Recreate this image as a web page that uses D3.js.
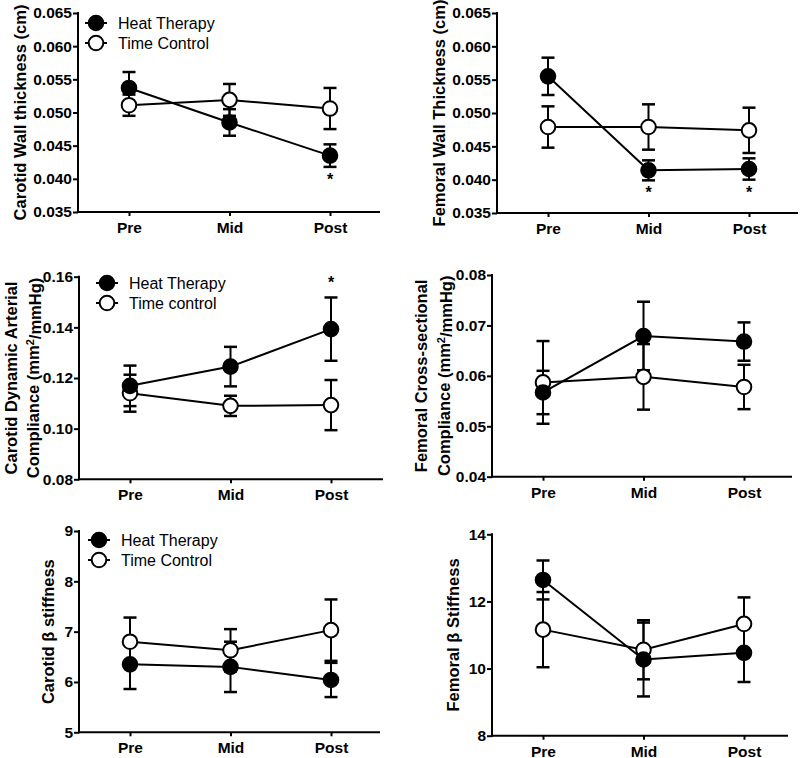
<!DOCTYPE html>
<html lang="en">
<head>
  <meta charset="UTF-8">
  <title>Heat Therapy vs Time Control</title>
  <script src="https://d3js.org/d3.v7.min.js"></script>
  <style>
    body { margin: 0; background: #fff; font-family: "Liberation Sans", Arial, sans-serif; }
    svg { display: block; }
    .tick text { font-family: "Liberation Sans", Arial, sans-serif; font-weight: bold; font-size: 15.5px; fill: #000; }
    .ylab { font-weight: bold; font-size: 16.5px; }
    .legend { font-size: 16px; }
  </style>
</head>
<body>
  <div id="chart"></div>

  <script>
    const categories = ["Pre", "Mid", "Post"];

    // carotid wall thickness (cm)
    const carWallHeat = [0.0537, 0.0485, 0.0435];
    const carWallHeatErr = [0.0024, 0.0020, 0.0017];
    const carWallCtrl = [0.0511, 0.0519, 0.0506];
    const carWallCtrlErr = [0.0016, 0.0024, 0.0031];
    const carWallTicks = [0.035, 0.040, 0.045, 0.050, 0.055, 0.060, 0.065];

    // femoral wall thickness (cm)
    const femWallHeat = [0.0555, 0.0414, 0.0416];
    const femWallHeatErr = [0.0028, 0.0015, 0.0016];
    const femWallCtrl = [0.0479, 0.0479, 0.0474];
    const femWallCtrlErr = [0.0031, 0.0034, 0.0034];
    const femWallTicks = [0.035, 0.040, 0.045, 0.050, 0.055, 0.060, 0.065];

    // carotid dynamic arterial compliance
    const carCompHeat = [0.1169, 0.1245, 0.1393];
    const carCompHeatErr = [0.0080, 0.0078, 0.0125];
    const carCompCtrl = [0.1140, 0.1090, 0.1093];
    const carCompCtrlErr = [0.0073, 0.0040, 0.0099];
    const carCompTicks = [0.08, 0.10, 0.12, 0.14, 0.16];

    // femoral cross-sectional compliance
    const femCompHeat = [0.0567, 0.0679, 0.0668];
    const femCompHeatErr = [0.0043, 0.0068, 0.0038];
    const femCompCtrl = [0.0587, 0.0598, 0.0578];
    const femCompCtrlErr = [0.0082, 0.0065, 0.0044];
    const femCompTicks = [0.04, 0.05, 0.06, 0.07, 0.08];

    // carotid beta stiffness
    const carStiffHeat = [6.35, 6.30, 6.04];
    const carStiffHeatErr = [0.49, 0.50, 0.34];
    const carStiffCtrl = [6.80, 6.63, 7.03];
    const carStiffCtrlErr = [0.48, 0.42, 0.61];
    const carStiffTicks = [5, 6, 7, 8, 9];

    // femoral beta stiffness
    const femStiffHeat = [12.64, 10.27, 10.47];
    const femStiffHeatErr = [0.58, 1.10, 0.87];
    const femStiffCtrl = [11.16, 10.56, 11.33];
    const femStiffCtrlErr = [1.12, 0.88, 0.79];
    const femStiffTicks = [8, 10, 12, 14];

    const svg = d3.select("#chart").append("svg")
      .attr("width", 800).attr("height", 758);

    const panels = [
      { ax: 78, ae: 380, top: 13, bot: 212, ticks: carWallTicks, fmt: ".3f",
        heat: carWallHeat, heatErr: carWallHeatErr, ctrl: carWallCtrl, ctrlErr: carWallCtrlErr,
        label: ["Carotid Wall thickness (cm)"], labX: [20],
        legend: { x: 96, y: 23, names: ["Heat Therapy", "Time Control"] },
        stars: [{ cat: "Post", below: true }] },
      { ax: 497, ae: 798, top: 13, bot: 213, ticks: femWallTicks, fmt: ".3f",
        heat: femWallHeat, heatErr: femWallHeatErr, ctrl: femWallCtrl, ctrlErr: femWallCtrlErr,
        label: ["Femoral Wall Thickness (cm)"], labX: [439],
        stars: [{ cat: "Mid", below: true }, { cat: "Post", below: true }] },
      { ax: 79, ae: 383, top: 276.7, bot: 479.3, ticks: carCompTicks, fmt: ".2f",
        heat: carCompHeat, heatErr: carCompHeatErr, ctrl: carCompCtrl, ctrlErr: carCompCtrlErr,
        label: ["Carotid Dynamic  Arterial", "Compliance (mm|2|/mmHg)"], labX: [11, 33],
        legend: { x: 107, y: 283, names: ["Heat Therapy", "Time control"] },
        stars: [{ cat: "Post", below: false }] },
      { ax: 492, ae: 792, top: 275, bot: 476.7, ticks: femCompTicks, fmt: ".2f",
        heat: femCompHeat, heatErr: femCompHeatErr, ctrl: femCompCtrl, ctrlErr: femCompCtrlErr,
        label: ["Femoral  Cross-sectional", "Compliance (mm|2|/mmHg)"], labX: [421, 444],
        stars: [] },
      { ax: 79, ae: 380, top: 531, bot: 732.3, ticks: carStiffTicks, fmt: "d",
        heat: carStiffHeat, heatErr: carStiffHeatErr, ctrl: carStiffCtrl, ctrlErr: carStiffCtrlErr,
        label: ["Carotid β stiffness"], labX: [48],
        legend: { x: 99, y: 540, names: ["Heat Therapy", "Time Control"] },
        stars: [] },
      { ax: 492, ae: 788, top: 534.3, bot: 735.7, ticks: femStiffTicks, fmt: "d",
        heat: femStiffHeat, heatErr: femStiffHeatErr, ctrl: femStiffCtrl, ctrlErr: femStiffCtrlErr,
        label: ["Femoral  β Stiffness"], labX: [453],
        stars: [] }
    ];

    panels.forEach(p => {
      const g = svg.append("g");
      const y = d3.scaleLinear()
        .domain([p.ticks[0], p.ticks[p.ticks.length - 1]])
        .range([p.bot, p.top]);
      const x = d3.scalePoint().domain(categories).range([p.ax + 51, p.ax + 252]);

      // axes
      const yAxis = g.append("g").attr("transform", `translate(${p.ax},0)`)
        .call(d3.axisLeft(y).tickValues(p.ticks).tickFormat(d3.format(p.fmt)).tickSize(5).tickPadding(1));
      yAxis.select(".domain").remove();
      yAxis.selectAll(".tick line").attr("stroke-width", 2);
      g.append("line").attr("x1", p.ax).attr("x2", p.ax).attr("y1", p.top - 1).attr("y2", p.bot + 1)
        .attr("stroke", "#000").attr("stroke-width", 2);

      const xAxis = g.append("g").attr("transform", `translate(0,${p.bot})`)
        .call(d3.axisBottom(x).tickSize(4).tickPadding(6));
      xAxis.select(".domain").remove();
      xAxis.selectAll(".tick line").attr("stroke-width", 2);
      g.append("line").attr("x1", p.ax - 1).attr("x2", p.ae).attr("y1", p.bot).attr("y2", p.bot)
        .attr("stroke", "#000").attr("stroke-width", 2);

      // y label
      const cy = (p.top + p.bot) / 2;
      p.label.forEach((txt, i) => {
        const t = g.append("text").attr("class", "ylab")
          .attr("transform", `translate(${p.labX[i]},${cy}) rotate(-90)`)
          .attr("text-anchor", "middle").attr("dy", "0.35em");
        const parts = txt.split("|");
        if (parts.length === 3) {
          t.append("tspan").text(parts[0]);
          t.append("tspan").attr("dy", "-0.45em").attr("font-size", "11px").text(parts[1]);
          t.append("tspan").attr("dy", "0.45em").text(parts[2]);
        } else {
          t.text(txt);
        }
      });

      const series = [
        { vals: p.heat, err: p.heatErr, fill: "#000" },
        { vals: p.ctrl, err: p.ctrlErr, fill: "#fff" }
      ];

      const line = d3.line().x((d, i) => x(categories[i])).y(d => y(d));
      series.forEach(s => {
        g.append("path").datum(s.vals).attr("d", line)
          .attr("fill", "none").attr("stroke", "#000").attr("stroke-width", 2);
      });

      series.forEach(s => {
        s.vals.forEach((v, i) => {
          const cx = x(categories[i]);
          const hi = y(v + s.err[i]), lo = y(v - s.err[i]);
          g.append("line").attr("x1", cx).attr("x2", cx).attr("y1", hi).attr("y2", lo)
            .attr("stroke", "#000").attr("stroke-width", 2);
          [hi, lo].forEach(yy => {
            g.append("line").attr("x1", cx - 6.5).attr("x2", cx + 6.5).attr("y1", yy).attr("y2", yy)
              .attr("stroke", "#000").attr("stroke-width", 2.5);
          });
        });
      });

      series.slice().reverse().forEach(s => {
        g.selectAll(null).data(s.vals).enter().append("circle")
          .attr("cx", (d, i) => x(categories[i])).attr("cy", d => y(d)).attr("r", 7.3)
          .attr("fill", s.fill).attr("stroke", "#000").attr("stroke-width", 2);
      });

      // significance stars
      p.stars.forEach(st => {
        const i = categories.indexOf(st.cat);
        const v = p.heat[i], e = p.heatErr[i];
        const yy = st.below ? y(v - e) + 18 : y(v + e) - 9;
        g.append("text").attr("x", x(st.cat)).attr("y", yy).attr("text-anchor", "middle")
          .attr("font-size", "16px").attr("font-weight", "bold").text("*");
      });

      // legend
      if (p.legend) {
        p.legend.names.forEach((name, i) => {
          const ly = p.legend.y + i * 20;
          g.append("line").attr("x1", p.legend.x - 11).attr("x2", p.legend.x + 11)
            .attr("y1", ly).attr("y2", ly).attr("stroke", "#000").attr("stroke-width", 2);
          g.append("circle").attr("cx", p.legend.x).attr("cy", ly).attr("r", 7.3)
            .attr("fill", series[i].fill).attr("stroke", "#000").attr("stroke-width", 2);
          g.append("text").attr("class", "legend").attr("x", p.legend.x + 22).attr("y", ly)
            .attr("dy", "0.35em").text(name);
        });
      }
    });
  </script>
</body>
</html>
